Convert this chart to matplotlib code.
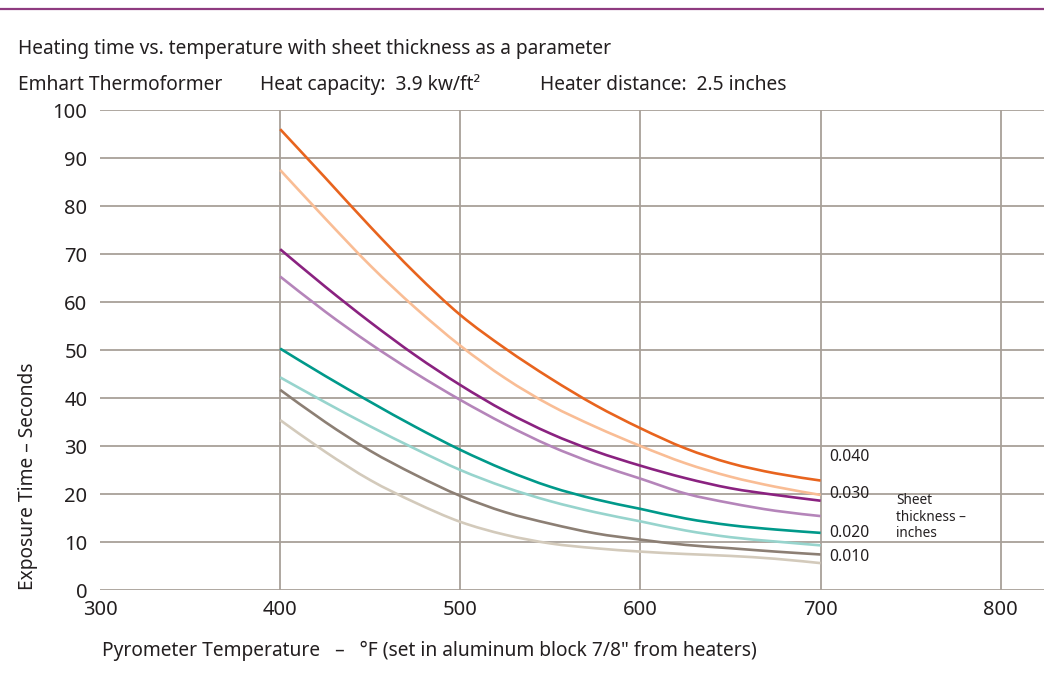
import matplotlib
matplotlib.use("Agg")
import matplotlib.pyplot as plt
from matplotlib.lines import Line2D
from matplotlib.path import Path
from matplotlib.patches import PathPatch

# === DATA ===
temps = [400, 425, 450, 475, 500, 525, 550, 575, 600, 625, 650, 675, 700]

t_040 = [96.0, 85.9, 75.7, 66.0, 57.3, 50.3, 44.1, 38.5, 33.7, 29.5, 26.4, 24.3, 22.8]
t_035 = [87.5, 77.4, 67.6, 58.8, 50.9, 44.1, 38.5, 34.0, 30.0, 26.4, 23.6, 21.5, 19.8]
t_030 = [71.0, 63.2, 55.8, 48.9, 42.7, 37.2, 32.6, 28.9, 25.9, 23.3, 21.2, 19.8, 18.6]
t_025 = [65.3, 58.0, 51.3, 45.2, 39.6, 34.5, 30.0, 26.3, 23.2, 20.1, 18.1, 16.5, 15.4]
t_020 = [50.3, 44.6, 39.2, 34.0, 29.2, 25.0, 21.5, 18.9, 16.9, 14.9, 13.5, 12.6, 11.9]
t_015 = [44.3, 39.1, 34.1, 29.4, 25.0, 21.4, 18.5, 16.2, 14.3, 12.4, 11.0, 10.1, 9.3]
t_010 = [41.7, 35.0, 29.0, 24.0, 19.6, 16.2, 13.8, 11.8, 10.5, 9.4, 8.7, 8.0, 7.4]
t_005 = [35.4, 28.8, 22.9, 18.2, 14.2, 11.5, 9.7, 8.7, 8.0, 7.5, 7.1, 6.5, 5.6]

series = [t_040, t_035, t_030, t_025, t_020, t_015, t_010, t_005]
colors = ["#e8641e", "#f9bd95", "#8a2280", "#b585ba", "#00998a",
          "#97d4cd", "#8c7f74", "#d3cabb"]

end_labels = ["0.040", "0.030", "0.020", "0.010"]
end_label_y = [27.7, 20.0, 11.9, 6.9]

x_ticks = [300, 400, 500, 600, 700, 800]
y_ticks = [0, 10, 20, 30, 40, 50, 60, 70, 80, 90, 100]

W, H = 1044, 680
plt.rcParams['font.family'] = ['Noto Sans', 'DejaVu Sans']
TEXT = "#231f20"
GRID = "#a8a099"
FS = 13.8


def fx(px):
    return px / W


def fy(py):
    return 1 - py / H


def smooth_path(xs, ys):
    """Catmull-Rom through the read points, drawn as cubic Bezier segments"""
    pts = list(zip(xs, ys))
    verts = [pts[0]]
    codes = [Path.MOVETO]
    n = len(pts)
    for i in range(n - 1):
        p0 = pts[i - 1] if i > 0 else pts[i]
        p1 = pts[i]
        p2 = pts[i + 1]
        p3 = pts[i + 2] if i + 2 < n else pts[i + 1]
        c1 = (p1[0] + (p2[0] - p0[0]) / 6, p1[1] + (p2[1] - p0[1]) / 6)
        c2 = (p2[0] - (p3[0] - p1[0]) / 6, p2[1] - (p3[1] - p1[1]) / 6)
        verts += [c1, c2, p2]
        codes += [Path.CURVE4] * 3
    return Path(verts, codes)


fig = plt.figure(figsize=(W / 100, H / 100), dpi=100)
ax = fig.add_axes([fx(100), fy(590), 1 - fx(100), fy(110) - fy(590)])

for vals, c in zip(series, colors):
    ax.add_patch(PathPatch(smooth_path(temps, vals), fill=False, edgecolor=c,
                           lw=1.9, capstyle='butt', zorder=3))

ax.set_xlim(300, 824)
ax.set_ylim(0, 100)
ax.set_xticks(x_ticks)
ax.set_yticks(y_ticks)
ax.tick_params(length=0, labelsize=14.5, colors=TEXT)
ax.tick_params(axis='x', pad=7)
ax.tick_params(axis='y', pad=9)
ax.grid(True, color=GRID, lw=1.3)
ax.xaxis.get_gridlines()[0].set_visible(False)
for s in ax.spines.values():
    s.set_visible(False)

# thickness labels at the end of the curves
for lab, yv in zip(end_labels, end_label_y):
    ax.text(705, yv, lab, fontsize=11.3, color=TEXT, va='center', ha='left')
ax.text(742, 15.2, "Sheet\nthickness –\ninches", fontsize=9.8, color=TEXT,
        va='center', ha='left', linespacing=1.1)

# header
fig.add_artist(Line2D([0, 1], [fy(9), fy(9)], color="#8e3b80", lw=1.6))
fig.text(fx(18), fy(49), "Heating time vs. temperature with sheet thickness as a parameter",
         fontsize=FS, color=TEXT, va='center', ha='left')
fig.text(fx(18), fy(85), "Emhart Thermoformer", fontsize=FS, color=TEXT, va='center')
fig.text(fx(260), fy(85), "Heat capacity:  3.9 kw/ft²", fontsize=FS, color=TEXT, va='center')
fig.text(fx(540), fy(85), "Heater distance:  2.5 inches", fontsize=FS, color=TEXT, va='center')

# axis titles
fig.text(fx(102), fy(651), 'Pyrometer Temperature   –   °F (set in aluminum block 7/8" from heaters)',
         fontsize=FS, color=TEXT, va='center', ha='left')
fig.text(fx(28), fy(590), "Exposure Time – Seconds", fontsize=FS, color=TEXT,
         rotation=90, ha='center', va='bottom')

fig.savefig("out.png", dpi=100)
